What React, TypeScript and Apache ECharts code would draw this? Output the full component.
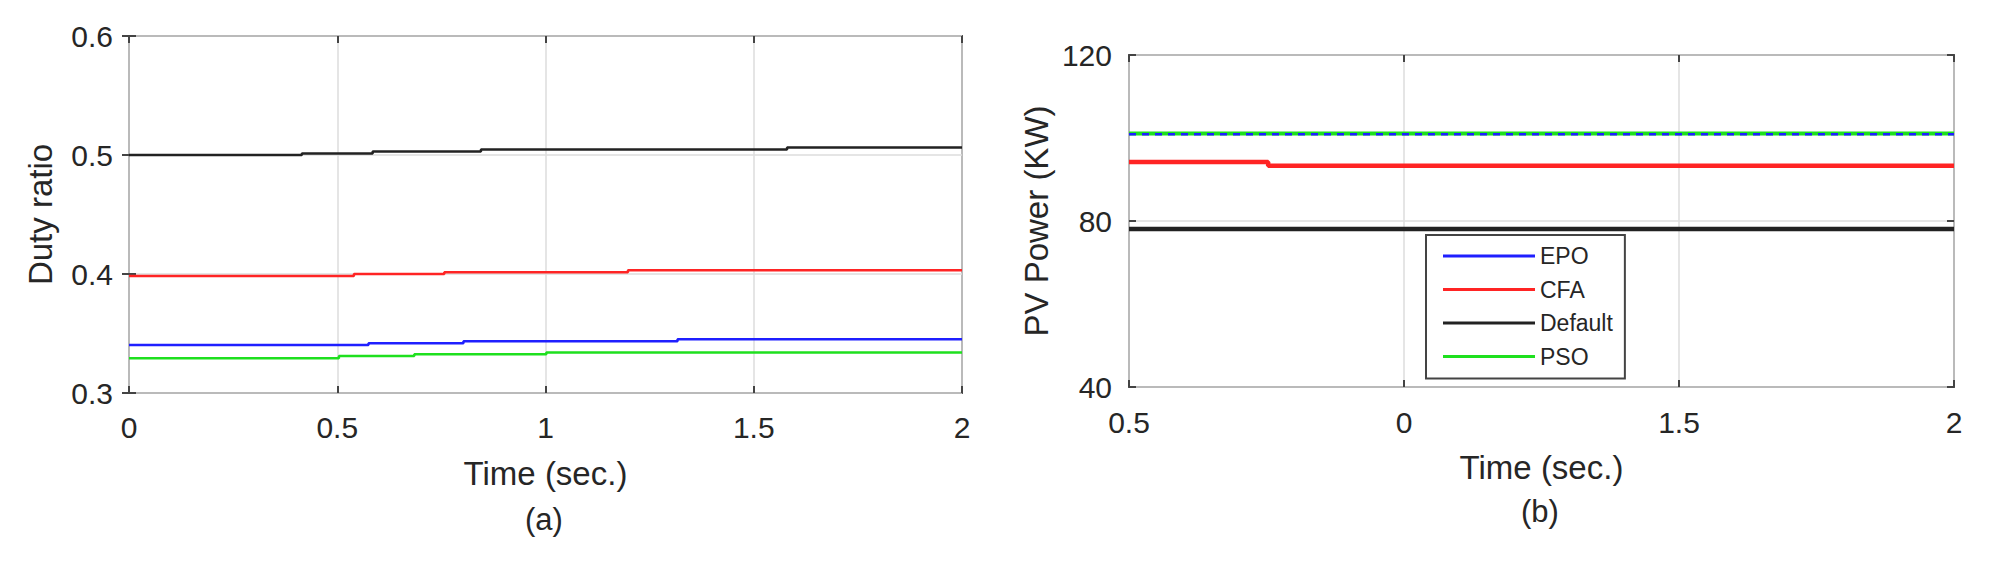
import React, { useEffect, useRef } from "react";
import * as echarts from "echarts";

// ---------- Panel (a): Duty ratio ----------
const dutyXTicks = [0, 0.5, 1, 1.5, 2];
const dutyYTicks = [0.3, 0.4, 0.5, 0.6];
const dutyEpoT = [0, 0.575, 0.803, 1.317, 2];
const dutyEpoV = [0.3404, 0.3419, 0.3434, 0.3451, 0.3451];
const dutyCfaT = [0, 0.54, 0.757, 1.198, 2];
const dutyCfaV = [0.3983, 0.3999, 0.4015, 0.4032, 0.4032];
const dutyDefaultT = [0, 0.415, 0.585, 0.845, 1.58, 2];
const dutyDefaultV = [0.5, 0.5013, 0.503, 0.5046, 0.5063, 0.5063];
const dutyPsoT = [0, 0.504, 0.685, 1.002, 2];
const dutyPsoV = [0.3293, 0.331, 0.3325, 0.3341, 0.3341];

// ---------- Panel (b): PV Power ----------
const pvXTickLabels = ["0.5", "0", "1.5", "2"];
const pvYTicks = [40, 80, 120];
const pvEpoT = [0.5, 2];
const pvEpoV = [100.9, 100.9];
const pvCfaT = [0.5, 0.753, 2];
const pvCfaV = [94.2, 93.3, 93.3];
const pvDefaultT = [0.5, 2];
const pvDefaultV = [78.1, 78.1];
const pvPsoT = [0.5, 2];
const pvPsoV = [101.1, 101.1];

const seriesNames = ["EPO", "CFA", "Default", "PSO"];
const colors: Record<string, string> = {
  EPO: "#1f1fff",
  CFA: "#ff2424",
  Default: "#222222",
  PSO: "#1ee01e",
};

const zip = (t: number[], v: number[]) => t.map((x, i) => [x, v[i]]);

const FONT = "'Liberation Sans', Arial, sans-serif";
const TXT = "#262626";

export default function App() {
  const ref = useRef<HTMLDivElement>(null);
  useEffect(() => {
    if (!ref.current) return;
    const chart = echarts.init(ref.current, undefined, { renderer: "svg" });

    const gridCommon = {
      show: true,
      borderColor: "#555555",
      borderWidth: 2,
      backgroundColor: "#ffffff",
      containLabel: false,
    };
    const splitLine = { show: true, lineStyle: { color: "#dcdcdc", width: 1.5 } };
    const tickIn = { show: true, inside: true, length: 7, lineStyle: { color: "#444", width: 2 } };
    const labelStyle = { fontSize: 30, color: TXT, fontFamily: FONT };
    const nameStyle = { fontSize: 33, color: TXT, fontFamily: FONT };

    const dutyMin = dutyYTicks[0];
    const dutyMax = dutyYTicks[dutyYTicks.length - 1];
    const dutyXMin = dutyXTicks[0];
    const dutyXMax = dutyXTicks[dutyXTicks.length - 1];
    const pvMin = pvYTicks[0];
    const pvMax = pvYTicks[pvYTicks.length - 1];

    const leftSeries = [
      ["EPO", dutyEpoT, dutyEpoV],
      ["CFA", dutyCfaT, dutyCfaV],
      ["Default", dutyDefaultT, dutyDefaultV],
      ["PSO", dutyPsoT, dutyPsoV],
    ].map(([name, t, v]: any) => ({
      name,
      type: "line",
      xAxisIndex: 0,
      yAxisIndex: 0,
      step: "end",
      symbol: "none",
      data: zip(t, v),
      lineStyle: { color: colors[name], width: 2.5 },
      itemStyle: { color: colors[name] },
    }));

    const rightSeries: any[] = [
      ["Default", pvDefaultT, pvDefaultV, 4.5, "solid"],
      ["CFA", pvCfaT, pvCfaV, 4.5, "solid"],
      ["PSO", pvPsoT, pvPsoV, 4, "solid"],
      ["EPO", pvEpoT, pvEpoV, 2.5, [7, 6]],
    ].map(([name, t, v, w, type]: any) => ({
      name,
      type: "line",
      xAxisIndex: 2,
      yAxisIndex: 2,
      step: "end",
      symbol: "none",
      data: zip(t, v),
      lineStyle: { color: colors[name], width: w, type },
      itemStyle: { color: colors[name] },
    }));

    const option: any = {
      animation: false,
      backgroundColor: "#ffffff",
      textStyle: { fontFamily: FONT },
      grid: [
        { ...gridCommon, left: 129, top: 36, width: 833, height: 357 },
        { ...gridCommon, left: 1129, top: 55, width: 825, height: 332 },
      ],
      xAxis: [
        {
          gridIndex: 0,
          type: "value",
          min: dutyXMin,
          max: dutyXMax,
          interval: 0.5,
          axisLine: { show: false },
          axisTick: tickIn,
          splitLine,
          axisLabel: { ...labelStyle, margin: 19 },
          name: "Time (sec.)",
          nameLocation: "middle",
          nameGap: 64,
          nameTextStyle: nameStyle,
        },
        {
          gridIndex: 0,
          type: "value",
          position: "top",
          min: dutyXMin,
          max: dutyXMax,
          interval: 0.5,
          axisLine: { show: false },
          axisTick: tickIn,
          splitLine: { show: false },
          axisLabel: { show: false },
        },
        {
          gridIndex: 1,
          type: "value",
          min: 0.5,
          max: 2,
          interval: 0.5,
          axisLine: { show: false },
          axisTick: tickIn,
          splitLine,
          axisLabel: {
            ...labelStyle,
            margin: 20,
            formatter: (v: number) => {
              const i = Math.round((v - 0.5) / 0.5);
              return pvXTickLabels[i] ?? "";
            },
          },
          name: "Time (sec.)",
          nameLocation: "middle",
          nameGap: 64,
          nameTextStyle: nameStyle,
        },
        {
          gridIndex: 1,
          type: "value",
          position: "top",
          min: 0.5,
          max: 2,
          interval: 0.5,
          axisLine: { show: false },
          axisTick: tickIn,
          splitLine: { show: false },
          axisLabel: { show: false },
        },
      ],
      yAxis: [
        {
          gridIndex: 0,
          type: "value",
          min: dutyMin,
          max: dutyMax,
          interval: 0.1,
          axisLine: { show: false },
          axisTick: tickIn,
          splitLine,
          axisLabel: { ...labelStyle, margin: 16, formatter: (v: number) => v.toFixed(1) },
          name: "Duty ratio",
          nameLocation: "middle",
          nameGap: 72,
          nameTextStyle: nameStyle,
        },
        {
          gridIndex: 0,
          type: "value",
          position: "right",
          min: dutyMin,
          max: dutyMax,
          interval: 0.1,
          axisLine: { show: false },
          axisTick: tickIn,
          splitLine: { show: false },
          axisLabel: { show: false },
        },
        {
          gridIndex: 1,
          type: "value",
          min: pvMin,
          max: pvMax,
          interval: 40,
          axisLine: { show: false },
          axisTick: tickIn,
          splitLine,
          axisLabel: { ...labelStyle, margin: 17 },
          name: "PV Power (KW)",
          nameLocation: "middle",
          nameGap: 76,
          nameTextStyle: nameStyle,
        },
        {
          gridIndex: 1,
          type: "value",
          position: "right",
          min: pvMin,
          max: pvMax,
          interval: 40,
          axisLine: { show: false },
          axisTick: tickIn,
          splitLine: { show: false },
          axisLabel: { show: false },
        },
      ],
      legend: {
        data: seriesNames,
        orient: "vertical",
        left: 1426,
        top: 235,
        backgroundColor: "#ffffff",
        borderColor: "#444444",
        borderWidth: 2,
        borderRadius: 0,
        padding: [9, 12, 10, 17],
        icon: "rect",
        itemWidth: 92,
        itemHeight: 3,
        itemGap: 9.5,
        itemTextGap: 10,
        textStyle: { fontSize: 23, lineHeight: 24, color: TXT, fontFamily: FONT },
        selectedMode: false,
      },
      graphic: [
        {
          type: "text",
          left: 545 - 20,
          top: 504,
          style: { text: "(a)", fontSize: 31, fill: TXT, fontFamily: FONT },
        },
        {
          type: "text",
          left: 1541 - 20,
          top: 496,
          style: { text: "(b)", fontSize: 31, fill: TXT, fontFamily: FONT },
        },
      ],
      series: [...leftSeries, ...rightSeries],
    };
    chart.setOption(option);
    return () => chart.dispose();
  }, []);

  return (
    <div
      ref={ref}
      style={{ position: "fixed", left: 0, top: 0, width: 2011, height: 570, background: "#fff" }}
    />
  );
}
